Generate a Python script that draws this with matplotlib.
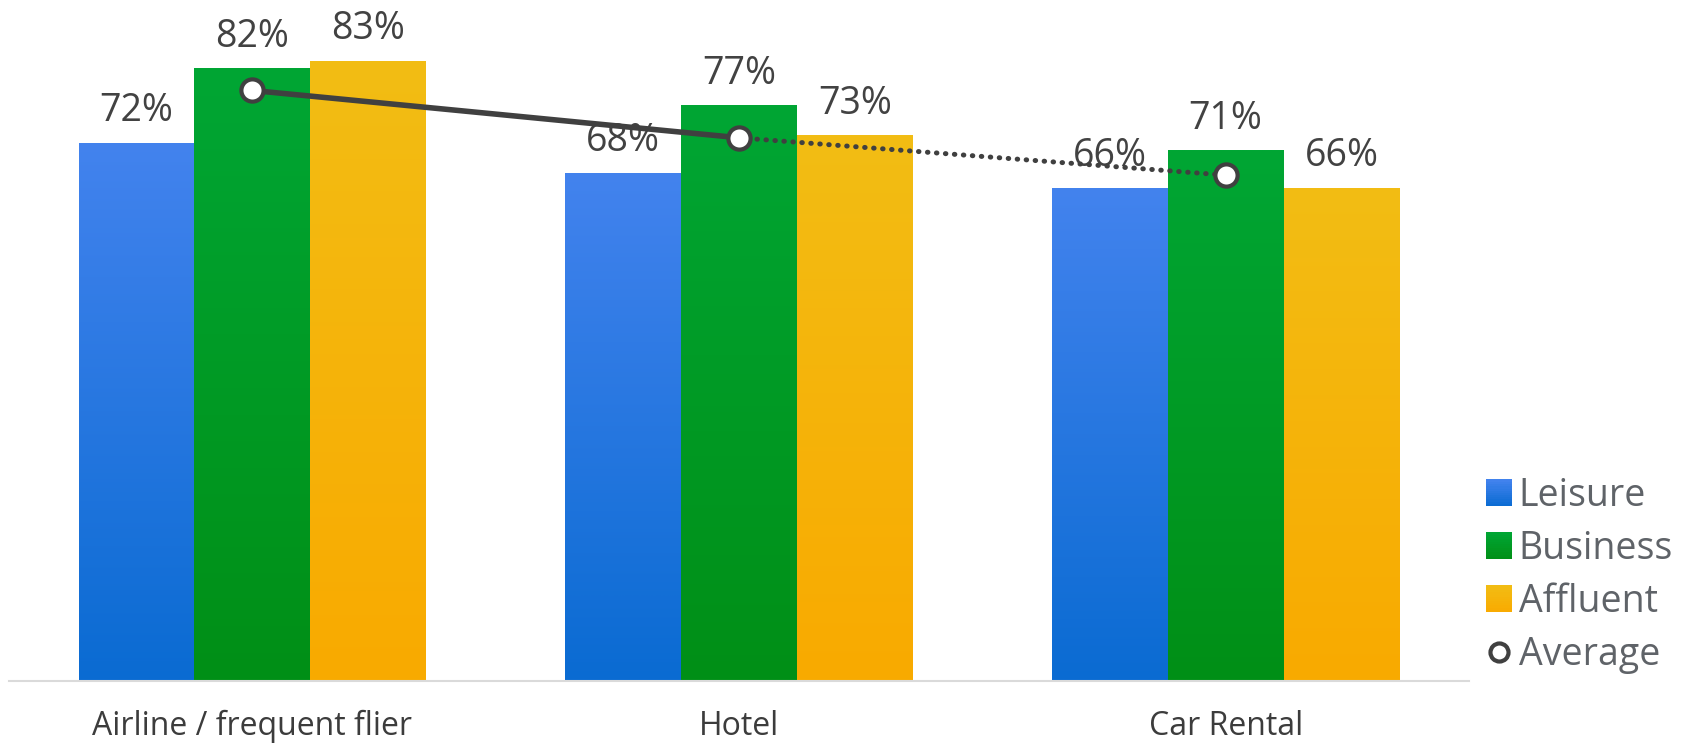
import numpy as np
import matplotlib.pyplot as plt
from matplotlib.lines import Line2D
from matplotlib.patches import Patch, Rectangle
from matplotlib.legend_handler import HandlerBase
from matplotlib.colors import to_rgb

categories = ['Airline / frequent flier', 'Hotel', 'Car Rental']
leisure = [72, 68, 66]
business = [82, 77, 71]
affluent = [83, 73, 66]
average = [79.0, 72.67, 67.67]
series_names = ['Leisure', 'Business', 'Affluent']

# top / bottom colours of each bar gradient
grad = [('#4383ee', '#0a6bd2'), ('#00a634', '#018f16'), ('#f2bd14', '#f9aa00')]

plt.rcParams['font.family'] = ['Open Sans', 'DejaVu Sans']


class GradientBox(HandlerBase):
	# legend key drawn as a stack of thin stripes, top to bottom colour
	def create_artists(self, legend, orig_handle, xdescent, ydescent, width, height, fontsize, trans):
		top, bot = orig_handle.grad
		top, bot = np.array(to_rgb(top)), np.array(to_rgb(bot))
		n = 12
		out = []
		for i in range(n):
			t = (i + 0.5) / n
			c = bot * (1 - t) + top * t
			out.append(Rectangle((-xdescent, -ydescent + height * i / n), width, height / n + 0.3,
				facecolor=c, edgecolor='none', transform=trans))
		return out


fig = plt.figure(figsize=(16.9, 7.43), dpi=100)
ax = fig.add_axes([9/1690, 62/743, 1460/1690, 681/743])

x = np.arange(len(categories))
w = 0.238
offsets = [-w, 0, w]

for k, vals in enumerate([leisure, business, affluent]):
	bars = ax.bar(x + offsets[k], vals, width=w, color='none', linewidth=0)
	top = np.array(to_rgb(grad[k][0]))
	bot = np.array(to_rgb(grad[k][1]))
	t = np.linspace(0, 1, 256)[:, None]
	img = (top * (1 - t) + bot * t)[:, None, :]
	for b, v in zip(bars, vals):
		bx = b.get_x()
		im = ax.imshow(img, extent=[bx, bx + b.get_width(), 0, b.get_height()],
			aspect='auto', origin='upper', zorder=1)
		im.set_clip_path(b)
		ax.annotate('%d%%' % v, (bx + b.get_width()/2, v), xytext=(0, 9),
			textcoords='offset points', ha='center', va='bottom',
			fontsize=27, color='#424242', zorder=2)

# average line: solid first segment, dotted second one
ax.plot(x[:2], average[:2], color='#404040', lw=4, solid_capstyle='round', zorder=3)
ax.plot(x[1:], average[1:], color='#404040', lw=3.6, linestyle=(0, (0.1, 1.7)),
	dash_capstyle='round', zorder=3)
ax.plot(x, average, 'o', ms=16, mfc='white', mec='#404040', mew=3, zorder=4)

ax.set_xlim(-0.5, 2.5)
ax.set_ylim(0, 91.1)
ax.set_xticks(x)
ax.set_xticklabels(categories, fontsize=23, color='#3c3c3c')
ax.tick_params(axis='x', length=0, pad=21)
ax.set_yticks([])
for s in ['top', 'right', 'left']:
	ax.spines[s].set_visible(False)
ax.spines['bottom'].set_color('#dadada')
ax.spines['bottom'].set_linewidth(1.5)

handles = []
for k in range(3):
	p = Patch()
	p.grad = grad[k]
	handles.append(p)
handles.append(Line2D([], [], marker='o', ls='none', ms=13, mfc='white', mec='#404040', mew=3))
leg = fig.legend(handles, series_names + ['Average'], loc='lower left',
	bbox_to_anchor=(1486/1690, 69/743), frameon=False, fontsize=27,
	handlelength=0.7, handleheight=0.7, handletextpad=0.17, labelspacing=0.4,
	borderpad=0, borderaxespad=0, handler_map={Patch: GradientBox()})
for txt in leg.get_texts():
	txt.set_color('#5f6368')

fig.savefig('out.png', dpi=100)
